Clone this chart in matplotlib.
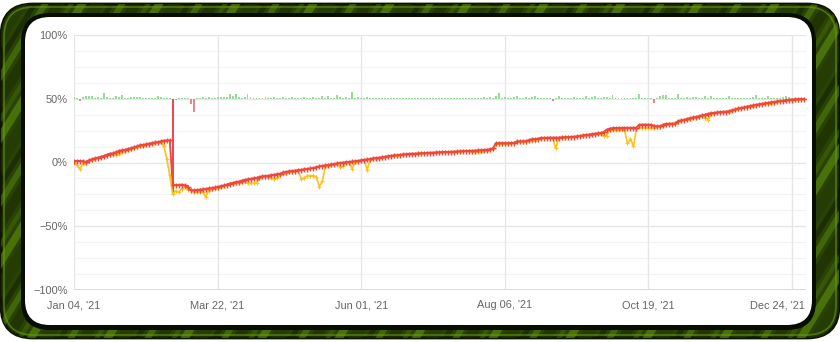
import matplotlib
matplotlib.use("Agg")
import matplotlib.pyplot as plt
from matplotlib.patches import FancyBboxPatch, Polygon
from matplotlib.transforms import ScaledTranslation
import numpy as np

# equity curve (red), per trading point, in %
equity = [
    1.0, 1.3, 1.3, 1.0, 0.5, 1.8, 2.6, 3.2, 3.9, 4.5,
    5.2, 6.1, 7.0, 7.2, 8.1, 9.2, 9.6, 9.8, 10.7, 11.3,
    12.0, 12.6, 13.5, 13.9, 14.2, 14.8, 15.3, 15.7, 16.0, 16.6,
    17.2, 17.3, 17.3, -17.7, -17.7, -17.6, -17.3, -17.8, -19.5, -21.5,
    -21.8, -21.6, -21.2, -21.0, -20.8, -20.3, -20.0, -19.6, -19.0, -18.5,
    -18.0, -17.3, -16.5, -16.0, -15.4, -15.0, -14.2, -13.6, -13.2, -12.8,
    -12.3, -12.0, -11.4, -10.8, -10.6, -10.3, -9.8, -9.5, -9.0, -8.7,
    -7.8, -7.3, -6.8, -6.5, -6.3, -5.9, -5.6, -5.3, -5.0, -4.6,
    -4.2, -3.7, -3.1, -2.6, -2.3, -1.9, -1.5, -1.1, -0.7, -0.3,
    0.0, 0.3, 0.5, 0.8, 1.0, 1.4, 1.8, 2.1, 2.4, 2.8,
    3.3, 3.6, 3.8, 4.2, 4.6, 5.0, 5.4, 5.6, 5.8, 6.1,
    6.3, 6.5, 6.8, 7.0, 7.0, 7.2, 7.3, 7.4, 7.6, 7.7,
    7.8, 7.9, 8.0, 8.2, 8.3, 8.3, 8.4, 8.6, 8.7, 8.8,
    9.0, 9.1, 9.2, 9.3, 9.4, 9.6, 9.7, 9.9, 10.1, 10.4,
    11.0, 15.0, 15.2, 15.2, 15.2, 15.2, 15.3, 15.4, 16.5, 16.6,
    16.6, 16.8, 17.6, 18.2, 18.5, 18.7, 19.3, 19.4, 19.4, 19.6,
    19.5, 19.6, 19.6, 19.8, 19.9, 20.0, 20.1, 20.3, 20.5, 20.8,
    21.2, 21.6, 21.9, 22.3, 22.6, 22.9, 23.2, 23.7, 25.8, 26.6,
    27.0, 27.1, 27.1, 27.1, 27.2, 27.2, 27.2, 27.3, 27.3, 29.7,
    29.7, 29.8, 29.7, 29.6, 28.5, 28.4, 28.5, 29.8, 30.4, 30.5,
    30.5, 30.7, 32.7, 33.0, 33.5, 34.2, 34.9, 35.3, 35.8, 36.5,
    37.0, 37.6, 38.3, 38.8, 39.0, 39.3, 39.5, 39.8, 40.0, 40.4,
    41.0, 41.7, 42.4, 42.8, 43.3, 43.9, 44.4, 44.8, 45.3, 45.7,
    46.1, 46.5, 46.9, 47.3, 47.5, 47.9, 48.3, 48.6, 48.9, 49.2,
    49.4, 49.5, 49.6, 49.7, 49.8,
]

# lowest floating equity (yellow), in %
low = [
    0.0, -2.0, -5.0, -1.0, 0.0, 1.0, 2.2, 2.7, 3.4, 4.0,
    4.6, 5.5, 6.2, 6.0, 6.0, 7.0, 8.0, 8.8, 9.6, 10.5,
    11.3, 12.0, 12.8, 13.2, 13.6, 14.2, 14.8, 15.2, 15.6, 16.0,
    13.0, 3.0, -10.0, -25.0, -22.0, -23.5, -20.5, -19.0, -21.5, -21.5,
    -23.0, -23.0, -22.8, -23.0, -26.8, -22.4, -21.0, -20.5, -20.0, -19.5,
    -18.8, -18.0, -17.2, -16.6, -16.2, -15.8, -15.0, -14.5, -16.2, -16.4,
    -16.4, -16.0, -12.5, -11.5, -11.2, -11.0, -12.5, -12.6, -12.2, -9.5,
    -8.8, -8.0, -7.8, -7.3, -7.0, -7.0, -12.8, -12.0, -10.2, -10.5,
    -10.2, -11.2, -19.0, -14.6, -3.5, -2.5, -2.0, -1.6, -1.2, -3.6,
    -3.0, -0.2, 0.0, -5.0, 0.5, 1.0, 1.3, 1.6, -5.5, 2.0,
    2.6, 3.1, 3.4, 3.8, 4.2, 4.6, 5.0, 5.2, 5.4, 5.7,
    6.0, 6.2, 6.5, 6.7, 6.7, 6.9, 7.0, 7.1, 7.3, 7.4,
    7.5, 7.6, 7.7, 7.9, 8.0, 8.0, 8.1, 8.3, 8.4, 8.5,
    8.7, 8.8, 8.9, 8.6, 8.4, 8.6, 8.4, 8.8, 9.3, 9.8,
    10.5, 14.6, 14.9, 14.9, 14.9, 14.9, 15.0, 15.1, 16.2, 16.3,
    16.3, 16.4, 17.2, 16.5, 17.0, 18.3, 19.0, 19.1, 19.1, 19.3,
    19.2, 11.0, 19.0, 19.5, 19.6, 19.7, 19.8, 20.0, 20.2, 20.5,
    20.9, 21.2, 21.5, 21.9, 22.2, 22.5, 22.8, 21.0, 21.0, 25.8,
    25.8, 25.8, 25.8, 25.9, 25.5, 15.0, 18.5, 12.7, 26.5, 27.5,
    27.2, 27.1, 27.2, 27.3, 27.4, 27.6, 28.0, 29.0, 29.8, 30.0,
    30.0, 30.2, 32.0, 32.5, 33.0, 33.5, 34.2, 34.6, 35.1, 35.8,
    36.3, 35.0, 33.6, 37.8, 38.5, 38.9, 39.1, 39.4, 39.6, 40.0,
    40.6, 41.3, 42.0, 42.4, 42.8, 43.4, 44.0, 43.6, 44.8, 45.3,
    45.7, 46.1, 46.5, 45.8, 47.0, 47.5, 47.9, 48.2, 48.5, 48.9,
    49.1, 49.3, 49.4, 49.5, 49.6,
]

# daily result bars, drawn from the 50% line
daily = [
    1.0, 0.5, -1.5, 1.5, 2.5, 2.5, 2.0, 0.8, 1.2, 0.8,
    4.5, 1.0, 0.8, 0.6, 2.0, 1.0, 3.0, 0.8, 0.6, 1.5,
    1.2, 1.2, 1.0, 0.6, 0.6, 0.5, 0.5, 0.6, 2.5, 1.2,
    0.5, 0.4, 0.3, -75.0, -0.8, 0.6, 0.5, 0.4, 0.3, -4.5,
    -10.0, 0.3, 0.8, 1.0, 0.6, 1.0, 0.8, 0.8, 1.5, 1.0,
    1.2, 1.0, 3.5, 2.5, 4.0, 1.5, 0.8, 1.0, 3.5, 1.0,
    0.8, 0.6, 0.6, 0.8, 1.2, 0.6, 0.5, 1.0, 0.6, 0.8,
    1.2, 0.6, 0.6, 1.0, 0.5, 0.6, 0.8, 1.0, 0.6, 0.5,
    1.0, 0.5, 0.5, 1.8, 0.8, 2.5, 0.6, 0.8, 3.0, 1.2,
    0.6, 1.0, 0.6, 5.0, 0.8, 1.5, 0.6, 0.8, 1.0, 0.6,
    0.5, 0.8, 0.6, 0.6, 0.5, 0.8, 0.6, 0.5, 0.6, 0.5,
    0.6, 0.5, 0.5, 0.6, 0.8, 0.5, 0.5, 0.6, 0.5, 0.5,
    0.6, 0.5, 0.8, 0.5, 0.6, 0.5, 0.5, 0.6, 0.5, 0.5,
    0.6, 0.5, 0.5, 0.8, 0.6, 0.5, 0.6, 1.5, 0.6, 1.2,
    0.8, 2.5, 4.5, 0.8, 1.0, 0.6, 0.8, 1.0, 2.5, 0.8,
    0.6, 1.0, 0.8, 1.5, 2.5, 0.6, 0.8, 0.5, 0.6, 0.8,
    -1.5, 0.8, 2.5, 0.6, 0.5, 0.8, 0.6, 1.0, 0.8, 0.6,
    0.6, 2.0, 0.8, 1.5, 2.0, 0.6, 0.8, 1.0, 1.5, 0.8,
    3.0, 0.6, 0.5, 0.6, 0.5, 0.8, 0.6, 0.5, 0.6, 4.0,
    0.5, 0.6, 0.5, 0.5, -3.0, 0.6, 2.0, 3.0, 2.8, 0.6,
    0.8, 0.6, 4.0, 0.8, 0.6, 1.0, 0.6, 1.5, 1.0, 0.8,
    0.6, 2.5, 0.6, 2.5, 0.6, 0.8, 0.6, 0.5, 0.6, 2.5,
    0.6, 0.8, 0.6, 0.5, 0.8, 0.6, 0.8, 1.0, 3.0, 0.8,
    0.6, 0.8, 2.5, 0.6, 0.5, 0.6, 0.8, 1.0, 2.0, 1.0,
    0.6, 0.5, 0.8, 0.5, 0.6,
]

tick_pos = [0, 48, 96, 144, 192, 240]
tick_labels = ["Jan 04, '21", "Mar 22, '21", "Jun 01, '21",
               "Aug 06, '21", "Oct 19, '21", "Dec 24, '21"]
y_ticks = [-100, -50, 0, 50, 100]
y_labels = ["\u2212100%", "\u221250%", "0%", "50%", "100%"]

plt.rcParams['font.family'] = ['Liberation Sans', 'DejaVu Sans']

W, H = 840, 342
fig = plt.figure(figsize=(W / 100, H / 100), dpi=100)
fig.patch.set_facecolor('white')

# --- green frame, pixel coordinates ---
bg = fig.add_axes([0, 0, 1, 1])
bg.set_xlim(0, W)
bg.set_ylim(H, 0)
bg.axis('off')

outer = FancyBboxPatch((1, 4), W - 2, H - 8, boxstyle="round,pad=0,rounding_size=32",
                       facecolor='#2a4305', edgecolor='#0e1602', lw=2)
bg.add_patch(outer)
stripe_cols = ['#517f0c', '#1b2c03', '#3f6608', '#5f900f', '#223805', '#132002']
stripe_w = [7, 12, 5, 9, 14, 6]
x0 = -320
i = 0
while x0 < W + 40:
    w = stripe_w[i % len(stripe_w)]
    stripe = Polygon([(x0, H), (x0 + w, H), (x0 + w + 210, 0), (x0 + 210, 0)],
                     closed=True, facecolor=stripe_cols[i % len(stripe_cols)],
                     edgecolor='none', alpha=0.6)
    bg.add_patch(stripe)
    stripe.set_clip_path(outer)
    x0 += w + 4
    i += 1

rim = FancyBboxPatch((4, 7), W - 8, H - 14, boxstyle="round,pad=0,rounding_size=30",
                     facecolor='none', edgecolor='#6b9c12', lw=1.2, alpha=0.6)
bg.add_patch(rim)
shadow = FancyBboxPatch((21, 13), 795, 317, boxstyle="round,pad=0,rounding_size=29",
                        facecolor='#080d01', edgecolor='none')
bg.add_patch(shadow)
panel = FancyBboxPatch((25, 17), 787, 308, boxstyle="round,pad=0,rounding_size=25",
                       facecolor='white', edgecolor='none')
bg.add_patch(panel)

# --- chart ---
ax = fig.add_axes([74 / W, 1 - 290 / H, (805.5 - 74) / W, (290 - 35) / H])
ax.set_facecolor('white')
x = np.arange(len(equity))

for v in np.arange(-100, 100.1, 12.5):
    major = v % 50 == 0
    ax.axhline(v, color='#e6e6e6' if major else '#f3f3f3', lw=1.0 if major else 0.8, zorder=0)
for p in tick_pos:
    ax.axvline(p, color='#e6e6e6', lw=1.0, zorder=0)
ax.axvline(244.5, color='#e6e6e6', lw=1.0, zorder=0)
ax.axhline(-100, color='#ccd6eb', lw=1.2, zorder=1)

daily = np.array(daily)
bar_cols = ['#8fd68f' if d >= 0 else '#f07878' for d in daily]
bar_cols[int(np.argmin(daily))] = '#ee3344'
ax.bar(x, daily, bottom=50, width=0.65, color=bar_cols, alpha=0.9, zorder=2)

ax.plot(x, low, color='#ffc21a', lw=1.2, marker='+', ms=2.8, mew=0.8, zorder=3)
ax.plot(x, equity, color='#f0473a', lw=1.3, marker='+', ms=3.6, mew=1.0, zorder=4)

ax.set_xlim(0, 244.5)
ax.set_ylim(-100, 100)
ax.set_xticks(tick_pos)
ax.set_xticklabels(tick_labels)
ax.set_yticks(y_ticks)
ax.set_yticklabels(y_labels)
ax.tick_params(length=0, labelsize=7.9, colors='#666666')
ax.tick_params(axis='x', pad=7.5)
ax.tick_params(axis='y', pad=4.5)
for s in ax.spines.values():
    s.set_visible(False)

# keep last date label inside the plot area, like the original
last = ax.get_xticklabels()[-1]
last.set_horizontalalignment('right')
last.set_transform(last.get_transform() + ScaledTranslation(0.125, 0, fig.dpi_scale_trans))

fig.savefig('out.png', dpi=100, facecolor='white')
